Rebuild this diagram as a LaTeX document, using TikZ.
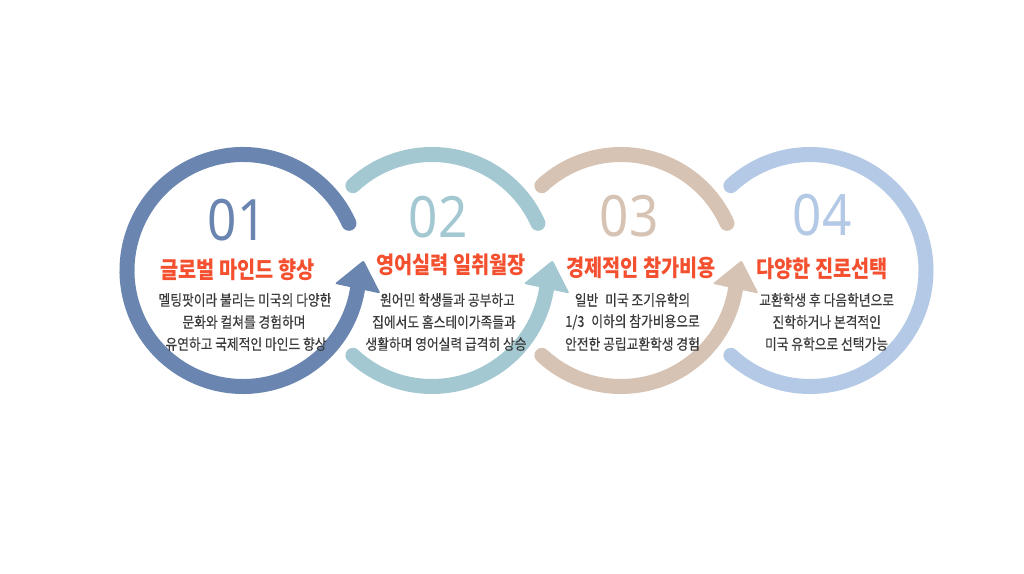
\documentclass[tikz,border=0pt]{standalone}
\usepackage{fontspec}
\newfontfamily\kr{Noto Sans CJK KR}[FakeStretch=0.85]
\newfontfamily\krm{Noto Sans CJK KR}[FakeStretch=0.85,FakeBold=0.35]
\newfontfamily\numf{Noto Sans}[FakeStretch=0.9]
\usetikzlibrary{calc}
\definecolor{cA}{HTML}{6A86B0}
\definecolor{cB}{HTML}{A3C8D2}
\definecolor{cC}{HTML}{D7C3B3}
\definecolor{cD}{HTML}{B3C9E6}
\definecolor{tred}{HTML}{F4502F}
\definecolor{tgray}{HTML}{3A3A3A}
\begin{document}
\begin{tikzpicture}[x=1pt,y=1pt,
  ring/.style={line width=15pt, line cap=round},
  headfill/.style={rounded corners=2pt},
  numtxt/.style={inner sep=0pt, font=\numf\fontsize{57}{57}\selectfont},
  ttl/.style={inner sep=0pt, text=tred, font=\kr\bfseries\fontsize{23.2}{26}\selectfont},
  body/.style={inner sep=0pt, text=tgray, font=\krm\fontsize{15}{18}\selectfont}]
\useasboundingbox[fill=white] (0,0) rectangle (1024,573);

\coordinate (c1) at (243,302.5);
\coordinate (c2) at (432,302.5);
\coordinate (c3) at (621,302.5);
\coordinate (c4) at (810,302.5);

% ring 1
\draw[ring, cA] ($(c1)+(24:116)$) arc[start angle=24, end angle=351, radius=116];
% ring 2
\draw[ring, cB] ($(c2)+(133:116)$) arc[start angle=133, end angle=24, radius=116];
\draw[ring, cB] ($(c2)+(227:116)$) arc[start angle=227, end angle=351, radius=116];
% ring 3
\draw[ring, cC] ($(c3)+(133:116)$) arc[start angle=133, end angle=24, radius=116];
\draw[ring, cC] ($(c3)+(227:116)$) arc[start angle=227, end angle=351, radius=116];
% ring 4
\draw[ring, cD] ($(c4)+(133:116)$) arc[start angle=133, end angle=-133, radius=116];

% arrow heads
\foreach \c/\col in {c1/cA, c2/cB, c3/cC}{
  \coordinate (b) at ($(\c)+(-9:116)$);
  \fill[headfill, \col] ($(b)+(78:29)$) -- ($(b)+(168:23.5)$) -- ($(b)+(-12:23.5)$) -- cycle;
}

% numbers
\node[numtxt, text=cA] (n1) at (237,353) {01};
\node[numtxt, text=cB] (n2) at (438,356) {02};
\node[numtxt, text=cC] (n3) at (629,357) {03};
\node[numtxt, text=cD] (n4) at (822,358) {04};

% titles
\node[ttl] (t1) at (237.5,303.5) {글로벌 마인드 향상};
\node[ttl] (t2) at (451,308) {영어실력 일취월장};
\node[ttl] (t3) at (641,305.5) {경제적인 참가비용};
\node[ttl] (t4) at (822,304) {다양한 진로선택};

% body texts
\node[body] (a1) at (245,273) {멜팅팟이라 불리는 미국의 다양한};
\node[body] (a2) at (244,251) {문화와 컬쳐를 경험하며};
\node[body] (a3) at (246,229) {유연하고 국제적인 마인드 향상};

\node[body] (b1) at (447.5,273) {원어민 학생들과 공부하고};
\node[body] (b2) at (444,251) {집에서도 홈스테이가족들과};
\node[body] (b3) at (446,229) {생활하며 영어실력 급격히 상승};

\node[body] (d1) at (632.5,273) {일반\hspace{4pt} 미국 조기유학의};
\node[body] (d2) at (632.5,251) {1/3\hspace{4pt} 이하의 참가비용으로};
\node[body] (d3) at (632.5,229) {안전한 공립교환학생 경험};

\node[body] (e1) at (826.7,273) {교환학생 후 다음학년으로};
\node[body] (e2) at (826.7,251) {진학하거나 본격적인};
\node[body] (e3) at (826.5,229) {미국 유학으로 선택가능};
\end{tikzpicture}
\end{document}
